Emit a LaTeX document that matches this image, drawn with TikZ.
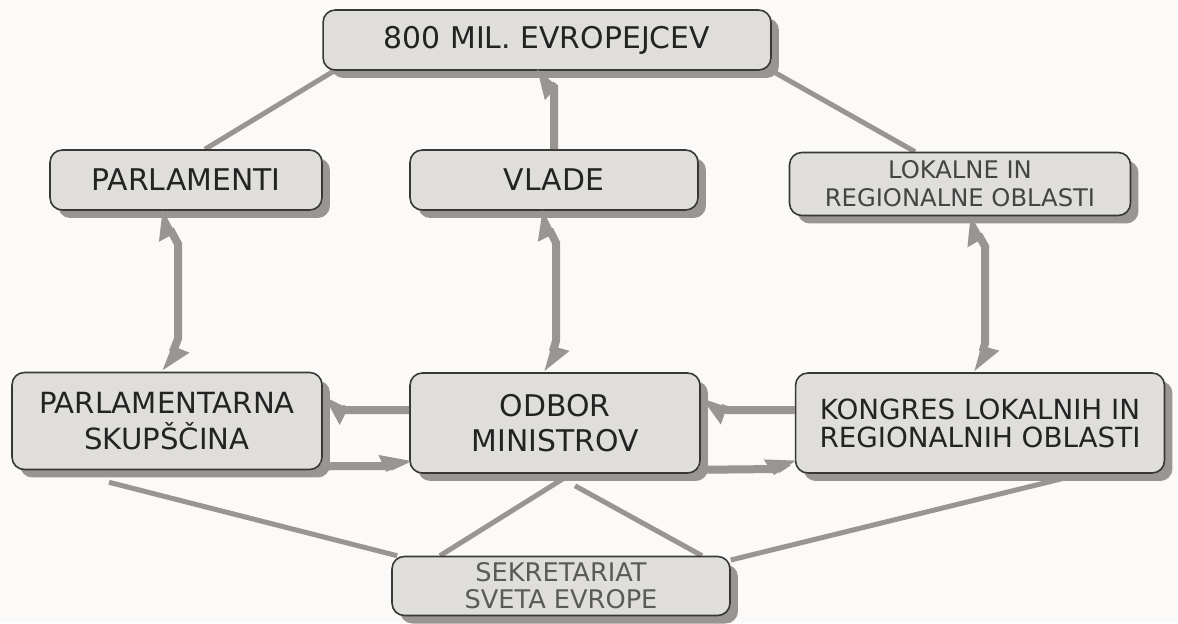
\documentclass[tikz,border=0pt]{standalone}
\usepackage{fontspec}
\setmainfont{DejaVu Sans}
\usetikzlibrary{arrows.meta,shadows,calc,backgrounds}
\definecolor{boxfill}{RGB}{224,222,219}
\definecolor{boxline}{RGB}{55,55,55}
\definecolor{boxshadow}{RGB}{152,149,146}
\definecolor{linkgray}{RGB}{152,149,146}
\definecolor{textgray}{RGB}{35,35,35}
\definecolor{papergray}{RGB}{251,250,248}

\tikzset{
  box/.style={draw=boxline, fill=boxfill, line width=0.9pt, rounded corners=7pt,
    align=center, text=textgray, inner sep=0pt,
    drop shadow={shadow xshift=0.16cm, shadow yshift=-0.16cm, fill=boxshadow, opacity=1}},
  link/.style={draw=linkgray, line width=0.1cm},
  flow/.style={draw=linkgray, line width=0.16cm, miter limit=10},
  oneway/.style={-{Triangle[harpoon, length=0.45cm, width=0.6cm]}},
  twoway/.style={{Triangle[harpoon, length=0.45cm, width=0.6cm]}-{Triangle[harpoon, length=0.45cm, width=0.6cm]}}
}

\begin{document}
\begin{tikzpicture}[x=0.02cm, y=-0.02cm]
% top row
\node[box, minimum width=8.96cm, minimum height=1.2cm, font=\fontsize{17}{20}\selectfont] (people) at (547,40) {800 MIL. EVROPEJCEV};

% middle row
\node[box, minimum width=5.44cm, minimum height=1.2cm, font=\fontsize{17}{20}\selectfont] (parl) at (186,180) {PARLAMENTI};
\node[box, minimum width=5.76cm, minimum height=1.2cm, font=\fontsize{17}{20}\selectfont] (vlade) at (554,180) {VLADE};
\node[box, minimum width=6.82cm, minimum height=1.26cm, font=\fontsize{13.8}{16}\selectfont, text=textgray!85] (lokal) at (960,184) {LOKALNE IN\\REGIONALNE OBLASTI};

% bottom row
\node[box, minimum width=6.2cm, minimum height=1.94cm, font=\fontsize{16.6}{20}\selectfont] (skup) at (167,421) {PARLAMENTARNA\\SKUPŠČINA};
\node[box, minimum width=5.8cm, minimum height=2cm, font=\fontsize{17}{20}\selectfont] (odbor) at (555,423) {ODBOR\\MINISTROV};
\node[box, minimum width=7.38cm, minimum height=2cm, font=\fontsize{15.8}{16}\selectfont] (kongres) at (980,423) {KONGRES LOKALNIH IN\\REGIONALNIH OBLASTI};

% secretariat
\node[box, minimum width=6.76cm, minimum height=1.18cm, font=\fontsize{14.6}{15.4}\selectfont, text=textgray!75] (sek) at (561,586) {SEKRETARIAT\\SVETA EVROPE};

% paper and plain links behind the boxes
\begin{scope}[on background layer]
\fill[papergray] (0,0) rectangle (1178,623);
\draw[link] ($(people.south west)+(12,0)$) -- ($(parl.north)+(19,0)$);
\draw[link] (people.south east) -- ($(lokal.north)+(-45,0)$);
\draw[link] ($(skup.south)+(-58,12)$) -- ($(sek.north west)+(6,0)$);
\draw[link] ($(odbor.south)+(16,0)$) -- ($(sek.north)+(-121,0)$);
\draw[link] ($(odbor.south)+(20,12)$) -- ($(sek.north)+(141,0)$);
\draw[link] ($(kongres.south)+(102,0)$) -- ($(sek.east)+(0,-26)$);
\end{scope}

% vertical flows
\draw[flow, oneway] (vlade.north) -- ++(0,-62) -- ($(people.south)+(-12,0)$);
\draw[flow, twoway] ($(parl.south)+(-26,0)$) -- ++(18,33) -- ++(0,95) -- ($(skup.north)+(-2,0)$);
\draw[flow, twoway] ($(vlade.south)+(-14,0)$) -- ++(16,32) -- ++(0,98) -- ($(odbor.north)+(-8,0)$);
\draw[flow, twoway] ($(lokal.south)+(8,0)$) -- ++(17,30) -- ++(0,97) -- ($(kongres.north)+(-3,0)$);

% horizontal flows
\draw[flow, oneway] ($(odbor.west)+(0,-13)$) -- (345,410) -- ($(skup.east)+(0,-22)$);
\draw[flow, oneway] ($(skup.south east)+(-2,-4)$) -- (392,466) -- ($(odbor.west)+(0,35)$);
\draw[flow, oneway] ($(kongres.west)+(0,-13)$) -- (727,410) -- ($(odbor.east)+(0,-22)$);
\draw[flow, oneway] ($(odbor.south east)+(-2,-4)$) -- (778,469) -- ($(kongres.west)+(0,35)$);
\end{tikzpicture}
\end{document}
